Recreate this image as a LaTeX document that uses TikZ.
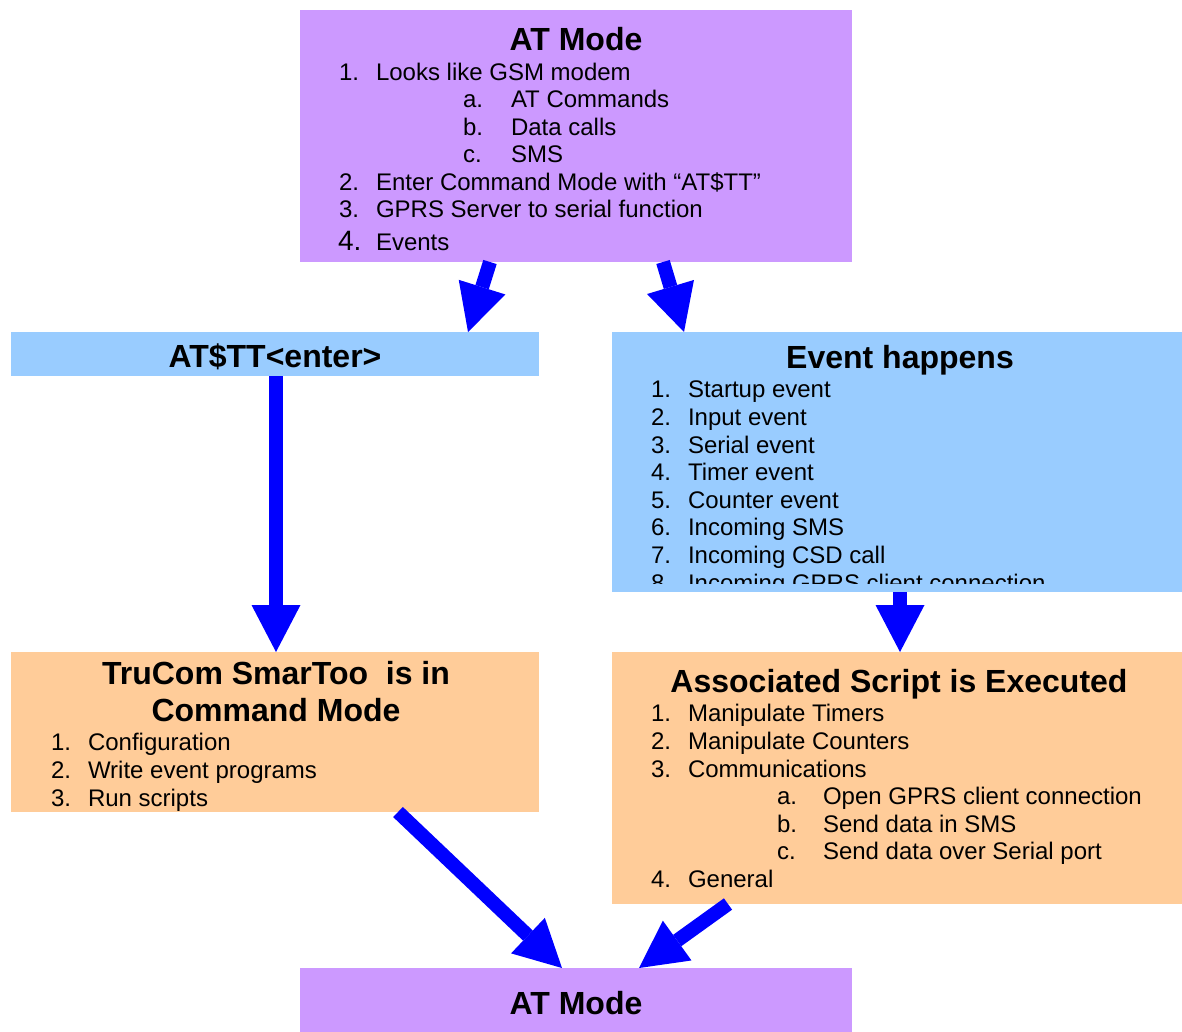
\documentclass[tikz,border=0pt]{standalone}
\usepackage{fontspec}
\setmainfont{Liberation Sans}
\usetikzlibrary{arrows.meta}
\definecolor{purp}{HTML}{CC99FF}
\definecolor{lblue}{HTML}{99CCFF}
\definecolor{lorange}{HTML}{FFCC99}
\definecolor{arrblue}{HTML}{0000FF}
\tikzset{
  box/.style={inner sep=0pt, outer sep=0pt, anchor=north west},
  tx/.style={inner sep=0pt, outer sep=0pt, anchor=base west, font=\fontsize{24}{27.6}\selectfont},
  bignum/.style={inner sep=0pt, outer sep=0pt, anchor=base west, font=\fontsize{28}{32}\selectfont},
  ttl/.style={inner sep=0pt, outer sep=0pt, anchor=base, font=\fontsize{32}{36.8}\selectfont\bfseries},
  bigarrow/.style={draw=arrblue, line width=14pt, -{Triangle[length=47pt,width=49pt,line width=0pt]}}
}
\begin{document}
\begin{tikzpicture}[x=1pt,y=-1pt]
\useasboundingbox (0,0) rectangle (1182,1032);
% boxes
\node[box, fill=purp, minimum width=552pt, minimum height=252pt] (atmode) at (300,10) {};
\node[box, fill=lblue, minimum width=528pt, minimum height=44pt] (atcmd) at (11,332) {};
\node[box, fill=lblue, minimum width=570pt, minimum height=260pt] (event) at (612,332) {};
\node[box, fill=lorange, minimum width=528pt, minimum height=160pt] (trucom) at (11,652) {};
\node[box, fill=lorange, minimum width=570pt, minimum height=252pt] (assoc) at (612,652) {};
\node[box, fill=purp, minimum width=552pt, minimum height=64pt] (atmode2) at (300,968) {};

% top AT Mode text
\node[ttl] (a0) at (576,50.5) {AT Mode};
\node[tx] (a1n) at (339,80.5) {1.};
\node[tx] (a1) at (376,80.5) {Looks like GSM modem};
\node[tx] (a1an) at (463,107.5) {a.};
\node[tx] (a1a) at (511,107.5) {AT Commands};
\node[tx] (a1bn) at (463,135.5) {b.};
\node[tx] (a1b) at (511,135.5) {Data calls};
\node[tx] (a1cn) at (463,162.5) {c.};
\node[tx] (a1c) at (511,162.5) {SMS};
\node[tx] (a2n) at (339,190.5) {2.};
\node[tx] (a2) at (376,190.5) {Enter Command Mode with “AT\$TT”};
\node[tx] (a3n) at (339,217.5) {3.};
\node[tx] (a3) at (376,217.5) {GPRS Server to serial function};
\node[bignum] (a4n) at (338,250.5) {4.};
\node[tx] (a4) at (376,250.5) {Events};

% AT$TT
\node[ttl] (c0) at (275,367) {AT\$TT<enter>};

% Event happens
\node[ttl] (e0) at (900,368.5) {Event happens};
\node[tx] (e1n) at (651,397.5) {1.};
\node[tx] (e1) at (688,397.5) {Startup event};
\node[tx] (e2n) at (651,425.5) {2.};
\node[tx] (e2) at (688,425.5) {Input event};
\node[tx] (e3n) at (651,453) {3.};
\node[tx] (e3) at (688,453) {Serial event};
\node[tx] (e4n) at (651,480.5) {4.};
\node[tx] (e4) at (688,480.5) {Timer event};
\node[tx] (e5n) at (651,508) {5.};
\node[tx] (e5) at (688,508) {Counter event};
\node[tx] (e6n) at (651,535.5) {6.};
\node[tx] (e6) at (688,535.5) {Incoming SMS};
\node[tx] (e7n) at (651,563) {7.};
\node[tx] (e7) at (688,563) {Incoming CSD call};
\begin{scope}
\clip (612,332) rectangle (1182,583);
\node[tx] (e8n) at (651,591) {8.};
\node[tx] (e8) at (688,591) {Incoming GPRS client connection};
\end{scope}

% TruCom
\node[ttl] (m0) at (276,684.5) {TruCom SmarToo\ \ is in};
\node[ttl] (m0b) at (276,721.5) {Command Mode};
\node[tx] (m1n) at (51,750.5) {1.};
\node[tx] (m1) at (88,750.5) {Configuration};
\node[tx] (m2n) at (51,778.5) {2.};
\node[tx] (m2) at (88,778.5) {Write event programs};
\node[tx] (m3n) at (51,806.5) {3.};
\node[tx] (m3) at (88,806.5) {Run scripts};

% Associated
\node[ttl] (s0) at (899,692.5) {Associated Script is Executed};
\node[tx] (s1n) at (651,721.5) {1.};
\node[tx] (s1) at (688,721.5) {Manipulate Timers};
\node[tx] (s2n) at (651,749.5) {2.};
\node[tx] (s2) at (688,749.5) {Manipulate Counters};
\node[tx] (s3n) at (651,777.5) {3.};
\node[tx] (s3) at (688,777.5) {Communications};
\node[tx] (s3an) at (777,804.5) {a.};
\node[tx] (s3a) at (823,804.5) {Open GPRS client connection};
\node[tx] (s3bn) at (777,832.5) {b.};
\node[tx] (s3b) at (823,832.5) {Send data in SMS};
\node[tx] (s3cn) at (777,859.5) {c.};
\node[tx] (s3c) at (823,859.5) {Send data over Serial port};
\node[tx] (s4n) at (651,887.5) {4.};
\node[tx] (s4) at (688,887.5) {General};

% bottom
\node[ttl] (b0) at (576,1014) {AT Mode};

% arrows
\draw[bigarrow] ([xshift=-86pt]atmode.south) -- ([xshift=193pt]atcmd.north);
\draw[bigarrow] ([xshift=87pt]atmode.south) -- ([xshift=-213pt]event.north);
\draw[bigarrow] ([xshift=1pt]atcmd.south) -- ([xshift=1pt]trucom.north);
\draw[bigarrow] ([xshift=3pt]event.south) -- ([xshift=3pt]assoc.north);
\draw[bigarrow] ([xshift=123pt]trucom.south) -- ([xshift=-14pt]atmode2.north);
\draw[bigarrow] ([xshift=-169pt]assoc.south) -- ([xshift=63pt]atmode2.north);
\end{tikzpicture}
\end{document}
